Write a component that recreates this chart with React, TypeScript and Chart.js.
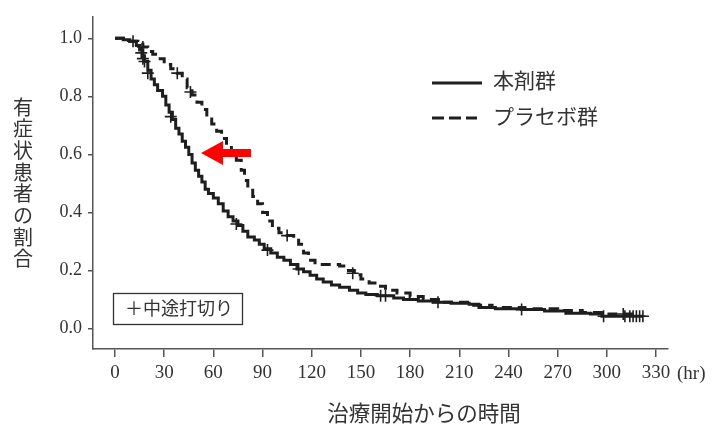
import { useEffect, useRef } from 'react';
import { Chart, registerables } from 'chart.js';

Chart.register(...registerables);

// ---- Data ----
const X_TICKS = [0, 30, 60, 90, 120, 150, 180, 210, 240, 270, 300, 330];
const Y_TICKS = [0, 0.2, 0.4, 0.6, 0.8, 1.0];

const DRUG_LABEL = '本剤群';
const PLACEBO_LABEL = 'プラセボ群';
const CENSOR_LABEL = '＋中途打切り';
const X_TITLE = '治療開始からの時間';
const Y_TITLE = '有症状患者の割合';
const X_UNIT = '(hr)';

const drugTimes = [0, 5, 9, 13, 15, 17, 18, 20, 22, 24, 26, 29, 31, 33, 35, 37, 39, 41, 43, 45, 47, 49, 51, 53, 55, 57, 60, 63, 66, 69, 72, 75, 78, 81, 85, 88, 91, 95, 99, 103, 107, 111, 115, 119, 123, 127, 132, 137, 143, 148, 153, 160, 170, 176, 185, 194, 205, 216, 222, 232, 248, 262, 275, 290, 297, 322];
const drugSurv = [1.0, 0.995, 0.99, 0.975, 0.96, 0.94, 0.92, 0.89, 0.86, 0.84, 0.82, 0.8, 0.77, 0.745, 0.72, 0.69, 0.67, 0.645, 0.625, 0.6, 0.57, 0.545, 0.525, 0.505, 0.48, 0.465, 0.45, 0.43, 0.405, 0.385, 0.37, 0.355, 0.335, 0.315, 0.305, 0.29, 0.275, 0.26, 0.245, 0.235, 0.22, 0.205, 0.195, 0.183, 0.17, 0.16, 0.15, 0.142, 0.132, 0.122, 0.117, 0.113, 0.105, 0.1, 0.095, 0.09, 0.087, 0.083, 0.072, 0.068, 0.065, 0.06, 0.052, 0.05, 0.042, 0.042];

const placeboTimes = [0, 9, 14, 17, 20, 23, 26, 30, 34, 38, 41, 44, 47, 50, 53, 56, 59, 62, 65, 68, 71, 74, 77, 79, 81, 84, 87, 90, 93, 96, 100, 105, 109, 112, 115, 118, 122, 137, 141, 146, 150, 155, 160, 165, 172, 180, 188, 200, 215, 230, 250, 270, 285, 300, 320];
const placeboSurv = [1.0, 0.99, 0.98, 0.97, 0.955, 0.945, 0.93, 0.91, 0.895, 0.88, 0.86, 0.83, 0.805, 0.78, 0.755, 0.73, 0.705, 0.68, 0.655, 0.63, 0.605, 0.58, 0.545, 0.51, 0.485, 0.455, 0.43, 0.4, 0.37, 0.345, 0.33, 0.32, 0.31, 0.29, 0.26, 0.235, 0.22, 0.215, 0.2, 0.185, 0.17, 0.157, 0.145, 0.132, 0.122, 0.11, 0.1, 0.09, 0.08, 0.072, 0.068, 0.062, 0.055, 0.05, 0.05];

const drugCensorTimes = [11, 16, 17, 18, 20, 34, 74, 93, 112, 162, 165, 197, 248, 298, 311, 314, 316, 318, 320, 322];
const drugCensorSurv = [0.99, 0.95, 0.93, 0.92, 0.88, 0.73, 0.36, 0.27, 0.205, 0.113, 0.113, 0.09, 0.065, 0.042, 0.042, 0.042, 0.042, 0.042, 0.042, 0.042];

const placeboCensorTimes = [17, 38, 46, 105, 145, 310];
const placeboCensorSurv = [0.97, 0.88, 0.815, 0.32, 0.19, 0.05];

const toPoints = (xs: number[], ys: number[]) => xs.map((x, i) => ({ x, y: ys[i] }));

const INK = '#1e1e1e';
const TEXT = '#333333';
const AXIS = '#555555';

const annotationPlugin = {
  id: 'annotations',
  afterDraw(chart: any) {
    const ctx = chart.ctx as CanvasRenderingContext2D;
    ctx.save();
    ctx.fillStyle = TEXT;
    ctx.textAlign = 'center';
    ctx.textBaseline = 'middle';

    // vertical y-axis title (upright characters)
    ctx.font = '20px "Noto Sans CJK JP"';
    Array.from(Y_TITLE).forEach((ch, i) => ctx.fillText(ch, 23, 107 + i * 21.7));

    // x-axis title
    ctx.font = '21.5px "Noto Sans CJK JP"';
    ctx.fillText(X_TITLE, 424, 413);

    // unit
    ctx.textAlign = 'left';
    ctx.font = '19px "Liberation Serif"';
    ctx.fillText(X_UNIT, 677, 374);

    // legend
    ctx.font = '21px "Noto Sans CJK JP"';
    ctx.fillText(DRUG_LABEL, 493, 80);
    ctx.fillText(PLACEBO_LABEL, 493, 116);
    ctx.strokeStyle = INK;
    ctx.lineWidth = 3;
    ctx.beginPath();
    ctx.moveTo(432, 83);
    ctx.lineTo(482, 83);
    ctx.stroke();
    ctx.setLineDash([12, 5]);
    ctx.beginPath();
    ctx.moveTo(432, 118);
    ctx.lineTo(477, 118);
    ctx.stroke();
    ctx.setLineDash([]);

    // censor box
    ctx.strokeStyle = '#333';
    ctx.lineWidth = 1.3;
    ctx.strokeRect(113.5, 293.5, 129, 31);
    ctx.font = '18px "Noto Sans CJK JP"';
    ctx.fillText(CENSOR_LABEL, 125, 308);

    // red arrow
    ctx.fillStyle = '#ff0000';
    ctx.beginPath();
    ctx.moveTo(201, 153);
    ctx.lineTo(223, 141);
    ctx.lineTo(223, 149);
    ctx.lineTo(251, 149);
    ctx.lineTo(251, 157);
    ctx.lineTo(223, 157);
    ctx.lineTo(223, 165);
    ctx.closePath();
    ctx.fill();

    ctx.restore();
  },
};

export default function App() {
  const canvasRef = useRef<HTMLCanvasElement | null>(null);

  useEffect(() => {
    if (!canvasRef.current) return;
    const lineBase = {
      type: 'line' as const,
      stepped: true,
      pointRadius: 0,
      borderWidth: 3,
      borderColor: INK,
      fill: false,
    };
    const censorBase = {
      type: 'scatter' as const,
      pointStyle: 'cross',
      pointRadius: 6,
      pointBorderWidth: 1.6,
      borderColor: INK,
      backgroundColor: INK,
      showLine: false,
    };
    const chart = new Chart(canvasRef.current, {
      type: 'line',
      data: {
        datasets: [
          { ...lineBase, label: DRUG_LABEL, data: toPoints(drugTimes, drugSurv) } as any,
          { ...lineBase, label: PLACEBO_LABEL, borderDash: [10, 6], borderWidth: 3, data: toPoints(placeboTimes, placeboSurv) } as any,
          { ...censorBase, label: 'drugCensor', data: toPoints(drugCensorTimes, drugCensorSurv) } as any,
          { ...censorBase, label: 'placeboCensor', data: toPoints(placeboCensorTimes, placeboCensorSurv) } as any,
        ],
      },
      options: {
        responsive: false,
        animation: false,
        devicePixelRatio: 1,
        layout: { padding: { top: 10, right: 47, left: 0, bottom: 0 } },
        plugins: {
          legend: { display: false },
          tooltip: { enabled: false },
          title: { display: false },
        },
        scales: {
          x: {
            type: 'linear',
            min: -13.42,
            max: 337.3,
            afterBuildTicks: (scale: any) => {
              scale.ticks = X_TICKS.map((v) => ({ value: v }));
            },
            afterFit: (scale: any) => {
              scale.height = 76;
            },
            grid: { drawOnChartArea: false, drawTicks: true, tickLength: 8, color: AXIS, lineWidth: 1.5 },
            border: { display: true, color: AXIS, width: 1.5 },
            ticks: {
              autoSkip: false,
              maxRotation: 0,
              padding: 5,
              color: TEXT,
              font: { family: '"Liberation Serif"', size: 19 },
              callback: (v: any) => String(v),
            },
          },
          y: {
            type: 'linear',
            min: -0.0709,
            max: 1.0743,
            afterBuildTicks: (scale: any) => {
              scale.ticks = Y_TICKS.map((v) => ({ value: v }));
            },
            afterFit: (scale: any) => {
              scale.width = 93;
            },
            grid: { drawOnChartArea: false, drawTicks: true, tickLength: 5, color: AXIS, lineWidth: 1.5 },
            border: { display: true, color: AXIS, width: 1.5 },
            ticks: {
              padding: 6,
              color: TEXT,
              font: { family: '"Liberation Serif"', size: 18 },
              callback: (v: any) => Number(v).toFixed(1),
            },
          },
        },
      },
      plugins: [annotationPlugin],
    });
    return () => chart.destroy();
  }, []);

  return (
    <div style={{ position: 'fixed', left: 0, top: 0, width: 715, height: 425, background: '#fff' }}>
      <canvas ref={canvasRef} width={715} height={425} />
    </div>
  );
}
